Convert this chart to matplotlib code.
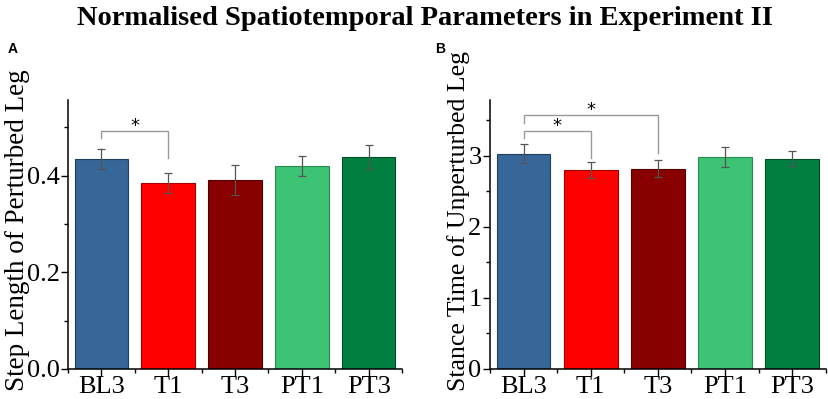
import matplotlib
matplotlib.use('Agg')
import matplotlib.pyplot as plt
import numpy as np
from matplotlib.ticker import MultipleLocator

# data
groups = ['BL3', 'T1', 'T3', 'PT1', 'PT3']
step_len = [0.434, 0.385, 0.391, 0.420, 0.439]
step_err = [0.021, 0.020, 0.031, 0.021, 0.025]
stance = [3.03, 2.80, 2.82, 2.98, 2.96]
stance_err = [0.13, 0.11, 0.12, 0.14, 0.11]
colors = ['#376699', '#ff0000', '#880000', '#3cc373', '#007f40']
edges = ['#1f3f60', '#a00000', '#500000', '#2a8a52', '#004d26']

# significance brackets: (i, j, y, y_left, y_right)
sig_a = [(0, 1, 0.492, 0.478, 0.436)]
sig_b = [(0, 2, 3.58, 3.46, 3.04), (0, 1, 3.35, 3.25, 2.97)]

plt.rcParams['font.family'] = ['Liberation Serif', 'DejaVu Serif']

fig = plt.figure(figsize=(8.29, 3.99), dpi=100)
ax1 = fig.add_axes([0.082, 0.0752, 0.403, 0.675])
ax2 = fig.add_axes([0.591, 0.0752, 0.405, 0.675])

def draw(ax, vals, errs, ylab, ymax, major, minor, sigs, fmt, labsize, labx, laby):
    x = np.arange(len(groups))
    ax.bar(x, vals, width=0.8, color=colors, edgecolor=edges, linewidth=0.8, zorder=2)
    ax.errorbar(x, vals, yerr=errs, fmt='none', ecolor='#555555', elinewidth=0.9,
                capsize=3, capthick=0.9, zorder=3)
    for i, j, y, yl, yr in sigs:
        ax.plot([i, i, j, j], [yl, y, y, yr], color='#999999', lw=1.0, zorder=1)
        ax.annotate('*', ((i + j) / 2, y), xytext=(0, 5), textcoords='offset pixels',
                    ha='center', va='center', fontsize=13, family='DejaVu Sans')
    ax.set_xlim(-0.5, 4.5)
    ax.set_ylim(0, ymax)
    ax.set_xticks(x)
    ax.set_xticklabels(groups)
    ax.set_xticks(np.arange(-0.5, 5, 1), minor=True)
    ax.yaxis.set_major_locator(MultipleLocator(major))
    ax.yaxis.set_minor_locator(MultipleLocator(minor))
    ax.yaxis.set_major_formatter(plt.FormatStrFormatter(fmt))
    ax.tick_params(axis='both', which='major', direction='out', length=5, width=1,
                   labelsize=19, pad=1)
    ax.tick_params(axis='both', which='minor', direction='out', length=3, width=1)
    ax.tick_params(axis='x', which='major', pad=0)
    for s in ['top', 'right']:
        ax.spines[s].set_visible(False)
    for s in ['left', 'bottom']:
        ax.spines[s].set_linewidth(1.1)
    ax.set_ylabel(ylab, fontsize=labsize)
    ax.yaxis.set_label_coords(labx, laby)

draw(ax1, step_len, step_err, 'Step Length of Perturbed Leg', 0.557, 0.2, 0.1, sig_a, '%.1f',
     19.5, -0.114, 0.515)
draw(ax2, stance, stance_err, 'Stance Time of Unperturbed Leg', 3.79, 1, 0.5, sig_b, '%d',
     18.5, -0.06, 0.55)

fig.text(0.513, 0.985, 'Normalised Spatiotemporal Parameters in Experiment II',
         ha='center', va='top', fontsize=20.5, fontweight='bold')
fig.text(0.009, 0.868, 'A', family='Liberation Sans', fontweight='bold', fontsize=10)
fig.text(0.525, 0.868, 'B', family='Liberation Sans', fontweight='bold', fontsize=10)

fig.savefig('out.png', dpi=100)
